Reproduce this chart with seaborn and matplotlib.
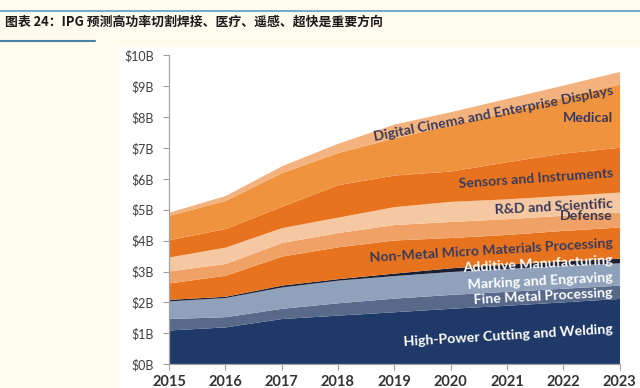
import numpy as np
import pandas as pd
import matplotlib
matplotlib.use("Agg")
import matplotlib.pyplot as plt
import seaborn as sns

# data (billions of USD per segment)
years = [2015, 2016, 2017, 2018, 2019, 2020, 2021, 2022, 2023]
segments = ["High-Power Cutting and Welding", "Fine Metal Processing",
            "Marking and Engraving", "Additive Manufacturing",
            "Non-Metal Micro Materials Processing", "Defense",
            "R&D and Scientific", "Sensors and Instruments", "Medical",
            "Digital Cinema and Enterprise Displays"]
high_power = [1.11, 1.21, 1.48, 1.59, 1.70, 1.81, 1.91, 2.02, 2.13]
fine_metal = [0.37, 0.33, 0.33, 0.40, 0.44, 0.45, 0.45, 0.44, 0.43]
marking = [0.57, 0.62, 0.69, 0.73, 0.73, 0.74, 0.74, 0.74, 0.72]
additive = [0.05, 0.04, 0.06, 0.05, 0.08, 0.12, 0.14, 0.14, 0.15]
non_metal = [0.53, 0.68, 0.94, 1.03, 1.07, 0.98, 0.96, 0.99, 1.01]
defense = [0.39, 0.38, 0.44, 0.46, 0.50, 0.52, 0.51, 0.49, 0.48]
rnd = [0.45, 0.53, 0.48, 0.50, 0.58, 0.65, 0.64, 0.64, 0.65]
sensors = [0.56, 0.60, 0.69, 1.05, 1.02, 0.98, 1.20, 1.37, 1.45]
medical = [0.79, 0.91, 1.09, 1.04, 1.20, 1.49, 1.60, 1.82, 2.04]
cinema = [0.10, 0.16, 0.22, 0.30, 0.45, 0.43, 0.45, 0.38, 0.41]
ytick_labels = ["$0B", "$1B", "$2B", "$3B", "$4B", "$5B", "$6B", "$7B", "$8B", "$9B", "$10B"]
title = "图表 24：IPG 预测高功率切割焊接、医疗、遥感、超快是重要方向"

df = pd.DataFrame({"year": years, segments[0]: high_power, segments[1]: fine_metal,
                   segments[2]: marking, segments[3]: additive, segments[4]: non_metal,
                   segments[5]: defense, segments[6]: rnd, segments[7]: sensors,
                   segments[8]: medical, segments[9]: cinema})

colors = ["#1f3a68", "#58698a", "#8fa1bb", "#1b1f33", "#e8731f",
          "#f0a266", "#f6c8a2", "#e8731f", "#ef933f", "#f4b27f"]

sns.set_theme(style="white")
plt.rcParams["font.family"] = ["Lato", "DejaVu Sans"]

fig = plt.figure(figsize=(6.4, 3.88), dpi=100, facecolor="#fffbee")
# white panel that holds the chart
fig.patches.append(plt.Rectangle((0.1875, 0), 0.8125, 0.879, transform=fig.transFigure,
                                 facecolor="white", edgecolor="none", zorder=-5))
# title lines
fig.add_artist(plt.Line2D([0, 1], [0.972, 0.972], color="#5b9bc8", lw=1.2, zorder=-4))
fig.add_artist(plt.Line2D([0, 0.148], [0.895, 0.895], color="#4a7fa8", lw=1.5, zorder=-4))
fig.text(0.008, 0.943, title, family=["Noto Sans CJK SC", "DejaVu Sans"],
         fontsize=9.3, fontweight="bold", color="#1a1a1a", va="center", ha="left")

ax = fig.add_axes([0.264, 0.0611, 0.704, 0.797])
ax.set_facecolor("white")
ax.stackplot(df["year"], [df[s] for s in segments], colors=colors, linewidth=0)

ax.set_xlim(2015, 2023)
ax.set_ylim(0, 10)
ax.set_xticks(years)
ax.set_xticklabels([str(y) for y in years], fontsize=10.5, fontweight="bold", color="#333333")
ax.set_yticks(range(11))
ax.set_yticklabels(ytick_labels, fontsize=9, color="#404040")
ax.tick_params(axis="both", length=4, width=0.8, color="#a0a0a0", direction="out",
               bottom=True, left=True)
ax.tick_params(axis="y", pad=7)
ax.tick_params(axis="x", pad=4)
sns.despine(ax=ax)
for side in ["left", "bottom"]:
    ax.spines[side].set_color("#a6a6a6")
    ax.spines[side].set_linewidth(0.9)
ax.grid(False)

dark = "#3a3a58"
label_style = [
    (segments[9], 8.85, 11, dark),
    (segments[8], 7.95, 0, dark),
    (segments[7], 6.17, 4, dark),
    (segments[6], 5.20, 3, dark),
    (segments[5], 4.78, 0, dark),
    (segments[4], 3.91, 3.5, dark),
    (segments[3], 3.37, 3, "white"),
    (segments[2], 2.82, 3, "white"),
    (segments[1], 2.30, 3, "white"),
    (segments[0], 1.14, 3.5, "white"),
]
for text, y, rot, col in label_style:
    ax.text(2022.88, y, text, ha="right", va="center", rotation=rot,
            rotation_mode="anchor", fontsize=10.2, fontweight="bold", color=col)

fig.savefig("out.png", dpi=100, facecolor=fig.get_facecolor())
